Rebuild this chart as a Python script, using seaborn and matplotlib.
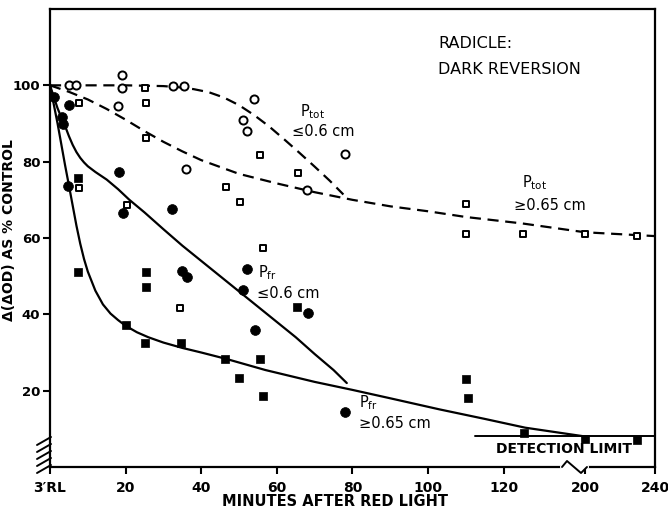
import numpy as np
import matplotlib
matplotlib.use("Agg")
import matplotlib.pyplot as plt
import seaborn as sns

# ===== data (minutes after red light, % of control)
# open circles: P_tot, radicle <= 0.6 cm
ptot_small_t = [5, 7, 19, 19, 18, 32.5, 35.5, 36, 54, 51, 52, 78, 68]
ptot_small_v = [100, 100, 102.7, 99.4, 94.7, 99.7, 99.8, 78, 96.5, 90.8, 88, 82, 72.5]
# open squares: P_tot, radicle >= 0.65 cm
ptot_large_t = [7.6, 7.6, 25.2, 25.4, 25.5, 20.4, 34.4, 46.6, 50.3, 55.6, 65.5, 56.4, 110, 110, 125, 200, 230]
ptot_large_v = [95.4, 73.2, 99.2, 95.4, 86.3, 68.6, 41.7, 73.4, 69.5, 81.7, 77.1, 57.3, 69, 61, 61, 61, 60.5]
# filled circles: P_fr, radicle <= 0.6 cm
pfr_small_t = [1, 5.1, 3.1, 3.5, 4.8, 18.3, 19.2, 32.3, 34.9, 36.2, 52, 51.1, 68.3, 54.2, 78]
pfr_small_v = [97, 94.8, 91.7, 89.8, 73.6, 77.3, 66.6, 67.7, 51.3, 49.8, 51.8, 46.3, 40.3, 36, 14.4]
# filled squares: P_fr, radicle >= 0.65 cm
pfr_large_t = [7.5, 7.3, 25.3, 25.4, 20, 25.1, 34.6, 46.2, 65.4, 55.6, 50.1, 56.3, 110, 110.5, 125.5, 200, 230]
pfr_large_v = [75.6, 51.2, 51.1, 47.1, 37.3, 32.4, 32.5, 28.3, 41.9, 28.3, 23.4, 18.6, 23.1, 18.1, 9, 7.4, 7]

# hand drawn curves
fit_ptot_small_t = [0, 10, 20, 30, 34, 38, 42, 46, 50, 54, 58, 62, 66, 70, 74, 77.6]
fit_ptot_small_v = [100, 100, 100, 99.8, 99.5, 99, 98.2, 96.8, 94.8, 92.2, 89.2, 85.8, 82.3, 78.7, 75, 71.4]
fit_ptot_large_t = [0, 5, 10, 15, 20, 25, 30, 35, 40, 50, 60, 70, 80, 90, 100, 110, 125, 200, 240]
fit_ptot_large_v = [100, 98.3, 96.3, 93.8, 91, 88, 85.2, 82.7, 80.4, 76.8, 74.3, 72, 70, 68.3, 67, 65.5, 63.8, 61.5, 60.5]
fit_pfr_small_t = [0, 1, 2, 3, 4, 5, 6, 7, 8, 9, 10, 12, 15, 18, 21, 25, 30, 35, 40, 45, 50, 55, 60, 65, 70, 75, 78.5]
fit_pfr_small_v = [100, 97, 94, 91.6, 89.3, 86.7, 84.4, 82.5, 81, 79.8, 78.8, 77.3, 75.3, 72.8, 70, 66.7, 62.3, 58, 54, 50, 46, 42, 38, 34, 29.6, 25.4, 22]
fit_pfr_large_t = [0, 1, 2, 3, 4, 5, 6, 7, 8, 9, 10, 12, 14, 16, 18, 20, 23, 26, 30, 35, 40, 46.7, 57, 70, 80, 90, 103, 115, 125.7, 200]
fit_pfr_large_v = [100, 95, 90, 84.5, 79, 73.8, 68.5, 63.2, 58.5, 54.5, 51.2, 46.2, 42.6, 40.2, 38.5, 37, 35.3, 34, 32.6, 31.2, 30, 28.3, 25.4, 22.3, 20.2, 18, 15.1, 12.6, 10.3, 8]

detection_limit = 8
detection_t = [112.5, 240]

x_ticks = [0, 20, 40, 60, 80, 100, 120, 200, 240]
x_labels = ["3\u2032RL", "20", "40", "60", "80", "100", "120", "200", "240"]
y_ticks = [20, 40, 60, 80, 100]


# broken time axis: linear to 140, squeezed gap, then slower scale after 200
def fwd(t):
    t = np.asarray(t, float)
    return np.where(t < 140, t, np.where(t < 200, 140 + (t - 140) * 0.025, 141.5 + (t - 200) * 0.463))


def inv(d):
    d = np.asarray(d, float)
    return np.where(d < 140, d, np.where(d < 141.5, 140 + (d - 140) / 0.025, 200 + (d - 141.5) / 0.463))


sns.set_style("ticks")
plt.rcParams['font.family'] = ['DejaVu Sans']
plt.rcParams.update({'text.color': 'black', 'axes.labelcolor': 'black', 'xtick.color': 'black',
                     'ytick.color': 'black', 'axes.edgecolor': 'black'})

W, H = 668, 512
fig = plt.figure(figsize=(W / 100, H / 100), dpi=100)
ax = fig.add_axes([50 / W, 45 / H, 605 / W, 458 / H])
ax.set_xscale('function', functions=(fwd, inv))

def px(x, y):
    return x / W, 1 - y / H

lw = 1.6
sns.lineplot(x=fit_ptot_small_t, y=fit_ptot_small_v, sort=False, estimator=None, color='black',
             lw=lw, linestyle=(0, (5, 3)), ax=ax)
sns.lineplot(x=fit_ptot_large_t, y=fit_ptot_large_v, sort=False, estimator=None, color='black',
             lw=lw, linestyle=(0, (5, 3)), ax=ax)
sns.lineplot(x=fit_pfr_small_t, y=fit_pfr_small_v, sort=False, estimator=None, color='black', lw=lw, ax=ax)
sns.lineplot(x=fit_pfr_large_t, y=fit_pfr_large_v, sort=False, estimator=None, color='black', lw=lw, ax=ax)

sns.scatterplot(x=ptot_small_t, y=ptot_small_v, marker='o', s=34, facecolor='white', edgecolor='black',
                linewidth=1.4, zorder=3, ax=ax)
sns.scatterplot(x=ptot_large_t, y=ptot_large_v, marker='s', s=22, facecolor='white', edgecolor='black',
                linewidth=1.4, zorder=3, ax=ax)
sns.scatterplot(x=pfr_small_t, y=pfr_small_v, marker='o', s=50, color='black', edgecolor='black',
                linewidth=0.5, zorder=3, ax=ax)
sns.scatterplot(x=pfr_large_t, y=pfr_large_v, marker='s', s=40, color='black', edgecolor='black',
                linewidth=0.5, zorder=3, ax=ax)

# detection limit
ax.plot(detection_t, [detection_limit, detection_limit], color='black', lw=1.4, clip_on=False)
fig.text(*px(564, 449), "DETECTION LIMIT", ha='center', va='center', fontsize=10, fontweight='bold')

ax.set_xlim(0, 240)
ax.set_ylim(0, 120)
ax.set_xticks(x_ticks)
ax.set_xticklabels(x_labels)
ax.set_yticks(y_ticks)
ax.tick_params(direction='out', length=5, width=1.5, labelsize=10, pad=5)
ax.tick_params(axis='y', labelsize=9.5, pad=2)
for lab in ax.get_xticklabels() + ax.get_yticklabels():
    lab.set_fontweight('bold')
for sp in ax.spines.values():
    sp.set_visible(True)
    sp.set_linewidth(1.6)
ax.set_xlabel("MINUTES AFTER RED LIGHT", fontsize=10.5, fontweight='bold')
ax.set_ylabel("\u0394(\u0394OD) AS % CONTROL", fontsize=10, fontweight='bold')
ax.xaxis.set_label_coords(285 / 605, -27 / 458)
ax.yaxis.set_label_coords(-34 / 605, 237 / 458)

# axis break marks
for yy in [442, 449, 456, 463, 470]:
    x0, y0 = px(37, yy + 3)
    x1, y1 = px(51, yy - 5)
    fig.add_artist(plt.Line2D([x0, x1], [y0, y1], color='black', lw=1.4))
gx0, gy = px(562, 467)
gx1, _ = px(587, 467)
fig.add_artist(plt.Line2D([gx0, gx1], [gy, gy], color='white', lw=3, zorder=10))
zz = [px(562, 467), px(567, 461), px(581, 473), px(587, 467)]
fig.add_artist(plt.Line2D([p[0] for p in zz], [p[1] for p in zz], color='black', lw=1.4, zorder=11))

# annotations
fig.text(*px(438, 44), "RADICLE:", fontsize=11.5, va='center', ha='left')
fig.text(*px(438, 70), "DARK REVERSION", fontsize=11.5, va='center', ha='left')
fig.text(*px(300, 112), r"P$_{\mathregular{tot}}$", fontsize=10.5, va='center', ha='left')
fig.text(*px(292, 132), "\u22640.6 cm", fontsize=10.5, va='center', ha='left')
fig.text(*px(522, 183), r"P$_{\mathregular{tot}}$", fontsize=10.5, va='center', ha='left')
fig.text(*px(514, 206), "\u22650.65 cm", fontsize=10.5, va='center', ha='left')
fig.text(*px(258, 273), r"P$_{\mathregular{fr}}$", fontsize=10.5, va='center', ha='left')
fig.text(*px(257, 294), "\u22640.6 cm", fontsize=10.5, va='center', ha='left')
fig.text(*px(359, 403), r"P$_{\mathregular{fr}}$", fontsize=10.5, va='center', ha='left')
fig.text(*px(359, 423), "\u22650.65 cm", fontsize=10.5, va='center', ha='left')

fig.savefig("out.png", dpi=100)
plt.close(fig)
